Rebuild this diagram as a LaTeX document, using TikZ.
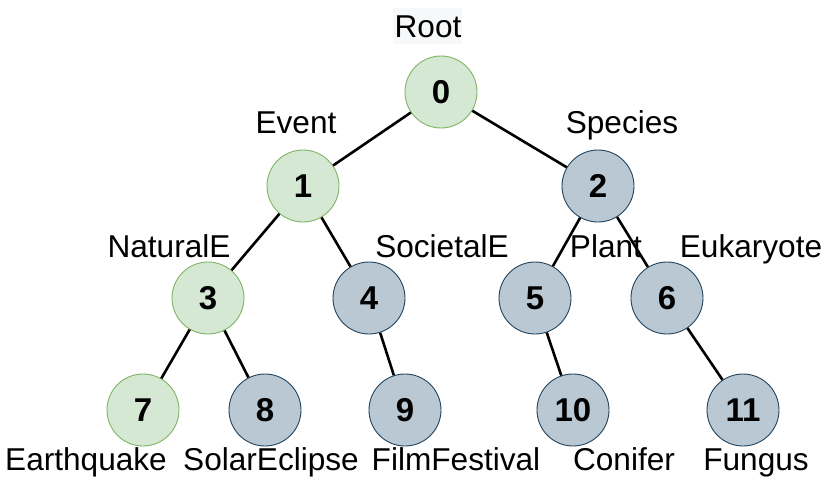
\documentclass[tikz,border=0pt]{standalone}
\usepackage{fontspec}
\setmainfont{Liberation Sans}
\definecolor{gfill}{HTML}{D5E8D4}
\definecolor{gdraw}{HTML}{82B366}
\definecolor{bfill}{HTML}{BAC8D3}
\definecolor{bdraw}{HTML}{23445D}
\definecolor{rootbg}{HTML}{F6F8F9}
\tikzset{
  tn/.style={circle, minimum size=72pt, inner sep=0pt, line width=0.9pt, font=\fontsize{33}{38}\selectfont\bfseries},
  gn/.style={tn, fill=gfill, draw=gdraw},
  bn/.style={tn, fill=bfill, draw=bdraw},
  lab/.style={anchor=base, inner sep=0pt, font=\fontsize{31.6}{37}\selectfont},
  edge/.style={line width=2.6pt, black}
}
\begin{document}
\begin{tikzpicture}[x=1pt,y=-1pt]
\useasboundingbox (0,0) rectangle (831,491);
% nodes
\node[gn] (n0) at (441,92) {0};
\node[gn] (n1) at (303,186) {1};
\node[bn] (n2) at (598,186) {2};
\node[gn] (n3) at (208,298) {3};
\node[bn] (n4) at (369,298) {4};
\node[bn] (n5) at (535,298) {5};
\node[bn] (n6) at (667,298) {6};
\node[gn] (n7) at (143,410) {7};
\node[bn] (n8) at (265,410) {8};
\node[bn] (n9) at (405,410) {9};
\node[bn] (n10) at (573,410) {10};
\node[bn] (n11) at (743,410) {11};
% edges
\draw[edge] (n0) -- (n1);
\draw[edge] (n0) -- (n2);
\draw[edge] (n1) -- (n3);
\draw[edge] (n1) -- (n4);
\draw[edge] (n2) -- (n5);
\draw[edge] (n2) -- (n6);
\draw[edge] (n3) -- (n7);
\draw[edge] (n3) -- (n8);
\draw[edge] (n4) -- (n9);
\draw[edge] (n5) -- (n10);
\draw[edge] (n6) -- (n11);
% labels
\fill[rootbg] (393,8) rectangle (462,44);
\node[lab] (lroot) at (428,37) {Root};
\node[lab] (levent) at (296,133) {Event};
\node[lab] (lspecies) at (622,133) {Species};
\node[lab] (lnat) at (169,257) {NaturalE};
\node[lab] (lsoc) at (442,257) {SocietalE};
\node[lab] (lplant) at (606,257) {Plant};
\node[lab] (leuk) at (751,257) {Eukaryote};
\node[lab] (lquake) at (86,470) {Earthquake};
\node[lab] (lsolar) at (271,470) {SolarEclipse};
\node[lab] (lfilm) at (456,470) {FilmFestival};
\node[lab] (lconifer) at (624,470) {Conifer};
\node[lab] (lfungus) at (756,470) {Fungus};
\end{tikzpicture}
\end{document}
